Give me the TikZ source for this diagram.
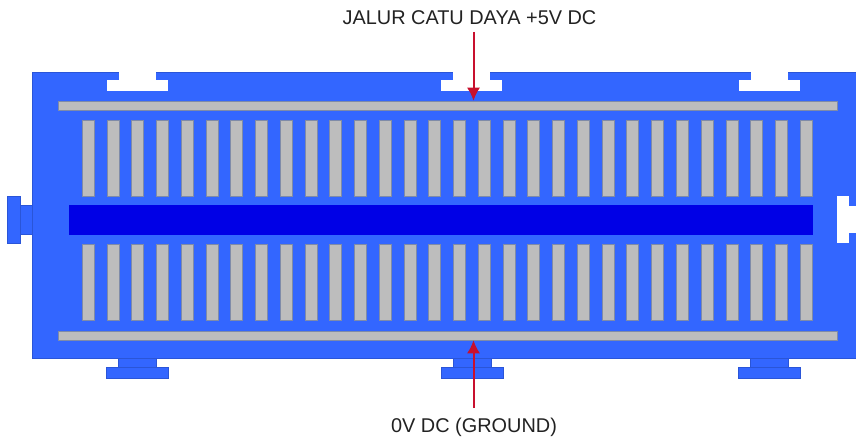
\documentclass[tikz,border=0pt]{standalone}
\usepackage{fontspec}
\setmainfont{Liberation Sans}
\usetikzlibrary{arrows.meta,calc,positioning}
\definecolor{boardblue}{HTML}{3366FF}
\definecolor{boardedge}{HTML}{2A55D8}
\definecolor{channel}{HTML}{0000E6}
\definecolor{railgrey}{HTML}{BDBDBD}
\definecolor{railedge}{HTML}{7F8BA8}
\definecolor{pointer}{HTML}{C8102E}
\definecolor{ink}{HTML}{222222}
\tikzset{
  every node/.style={text=ink},
  shell/.style={fill=boardblue, draw=boardedge, line width=.7pt,
    inner sep=0pt},
  notch/.style={fill=white, draw=none, inner sep=0pt},
  rail/.style={fill=railgrey, draw=railedge, line width=.5pt, inner sep=0pt,
    minimum width=779pt, minimum height=9pt},
  slot/.style={fill=railgrey, draw=railedge, line width=.5pt, inner sep=0pt,
    minimum width=12pt, minimum height=76pt},
  pointerflow/.style={-{Latex[length=13pt,width=13pt]}, color=pointer,
    line width=2pt},
  caption/.style={font=\fontsize{19.9}{22}\selectfont, inner sep=0pt}
}

\begin{document}
\begin{tikzpicture}[x=1pt,y=-1pt]
\useasboundingbox (0,0) rectangle (856,438);

% Bottom tabs and left tab sit under the board edge.
\foreach \tabx [count=\i] in {137,472,769}{
  \node[shell, minimum width=38pt, minimum height=10pt] (neck\i) at (\tabx,363) {};
  \node[shell, minimum width=62pt, minimum height=11pt] (foot\i) at (\tabx,372.5) {};
}
\node[shell, minimum width=13pt, minimum height=29pt] (leftneck) at (26,219.5) {};
\node[shell, minimum width=13pt, minimum height=47pt] (lefttab) at (13.5,219.5) {};

% Board body runs off the right side of the picture.
\node[shell, minimum width=830pt, minimum height=286pt] (board) at (447,215) {};

% Cut-outs along the top edge and on the right.
\foreach \cutx [count=\i] in {137.5,471.5,769.5}{
  \node[notch, minimum width=37pt, minimum height=10pt] (cutneck\i) at (\cutx,75.5) {};
  \node[notch, minimum width=61pt, minimum height=11pt] (cuthead\i) at (\cutx,85.5) {};
}
\node[notch, minimum width=12pt, minimum height=47pt] (righthead) at (843,220) {};
\node[notch, minimum width=10pt, minimum height=27pt] (rightneck) at (852,219.5) {};

% Power rails.
\node[rail] (railtop) at (447.5,105.5) {};
\node[rail] (railbot) at (447.5,335.5) {};

% Two banks of contact strips either side of the centre channel.
\foreach \n in {0,...,29}{
  \pgfmathsetmacro{\slotx}{88+24.76*\n}
  \node[slot] (slotup\n) at (\slotx,158) {};
  \node[slot] (slotlow\n) at (\slotx,282) {};
}
\node[fill=channel, inner sep=0pt, minimum width=744pt, minimum height=30pt]
  (channel) at (441,220) {};

% Labels and their pointers.
\node[caption] (labeltop) at (469.5,18) {JALUR CATU DAYA +5V DC};
\node[caption] (labelbot) at (474,427) {0V DC (GROUND)};
\coordinate (starttop) at (473.5,32);
\coordinate (startbot) at (473.5,408);

\draw[pointerflow] (starttop) -- (starttop |- railtop.north);
\draw[pointerflow] (startbot) -- (startbot |- railbot.south);

\end{tikzpicture}
\end{document}
